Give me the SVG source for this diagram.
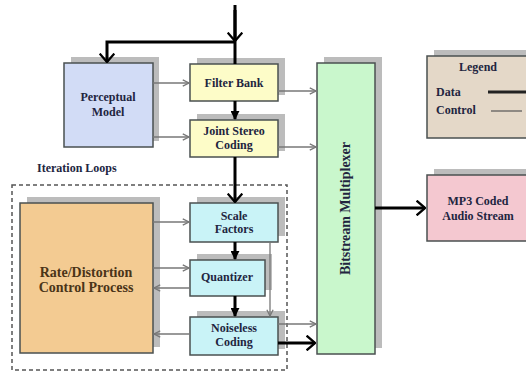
<svg xmlns="http://www.w3.org/2000/svg" width="526" height="372" viewBox="0 0 526 372">
<defs>
<marker id="chev" viewBox="0 0 10 16" refX="9" refY="8" markerWidth="3.5" markerHeight="5.6" orient="auto" markerUnits="strokeWidth">
<path d="M1,1 L9,8 L1,15" fill="none" stroke="#000" stroke-width="2.2"/>
</marker>
<marker id="tri" viewBox="0 0 10 10" refX="9" refY="5" markerWidth="3" markerHeight="3" orient="auto" markerUnits="strokeWidth">
<path d="M0,0 L10,5 L0,10 z" fill="#000"/>
</marker>
<marker id="thin" viewBox="0 0 10 10" refX="9" refY="5" markerWidth="6" markerHeight="6" orient="auto" markerUnits="strokeWidth">
<path d="M1,1 L9,5 L1,9" fill="none" stroke="#777" stroke-width="1.6"/>
</marker>
</defs>
<style>
.box{stroke:#4a5050;stroke-width:1.5}
.sh{fill:#bcbcbc}
.t{font-family:"Liberation Serif","Times New Roman",serif;font-weight:bold;font-size:12px;fill:#22253f;text-anchor:middle}
.data{stroke:#000;stroke-width:3;fill:none}
.ctl{stroke:#777;stroke-width:1.3;fill:none}
</style>
<rect width="526" height="372" fill="#fff"/>

<g id="iteration-loops">
<rect x="12" y="185" width="275" height="185" fill="none" stroke="#555" stroke-width="1.5" stroke-dasharray="4,3"/>
<text class="t" x="37" y="172" style="text-anchor:start">Iteration Loops</text>
</g>

<g id="perceptual-model">
<rect class="sh" x="71" y="57" width="88" height="84"/>
<rect class="box" x="64" y="63" width="89" height="84" fill="#d2dcf6"/>
<text class="t" x="108" y="101">Perceptual</text>
<text class="t" x="108" y="116">Model</text>
</g>

<g id="filter-bank">
<rect class="sh" x="197" y="58" width="88" height="37"/>
<rect class="box" x="190" y="64" width="88" height="37" fill="#fdfcc8"/>
<text class="t" x="234" y="87">Filter Bank</text>
</g>

<g id="joint-stereo">
<rect class="sh" x="197" y="114" width="88" height="37"/>
<rect class="box" x="190" y="120" width="88" height="37" fill="#fdfcc8"/>
<text class="t" x="234" y="135">Joint Stereo</text>
<text class="t" x="234" y="149">Coding</text>
</g>

<g id="rate-distortion">
<rect class="sh" x="27" y="197" width="133" height="150"/>
<rect class="box" x="20" y="203" width="133" height="150" fill="#f3cb92"/>
<text class="t" x="86" y="277" style="font-size:14px;fill:#4a3418">Rate/Distortion</text>
<text class="t" x="86" y="292" style="font-size:14px;fill:#4a3418">Control Process</text>
</g>

<g id="scale-factors">
<rect class="sh" x="197" y="197" width="88" height="39"/>
<rect class="box" x="190" y="203" width="88" height="39" fill="#c9f3f7"/>
<text class="t" x="234" y="220">Scale</text>
<text class="t" x="234" y="233">Factors</text>
</g>

<g id="quantizer">
<rect class="sh" x="197" y="254" width="75" height="36"/>
<rect class="box" x="190" y="260" width="75" height="36" fill="#c9f3f7"/>
<text class="t" x="227" y="281">Quantizer</text>
</g>

<g id="noiseless-coding">
<rect class="sh" x="197" y="311" width="88" height="38"/>
<rect class="box" x="190" y="317" width="88" height="38" fill="#c9f3f7"/>
<text class="t" x="234" y="332">Noiseless</text>
<text class="t" x="234" y="346">Coding</text>
</g>

<g id="bitstream-multiplexer">
<rect class="sh" x="324" y="57" width="58" height="291"/>
<rect class="box" x="317" y="63" width="58" height="291" fill="#c9f7cc"/>
<text class="t" transform="translate(350,208.5) rotate(-90)" style="font-size:14px">Bitstream Multiplexer</text>
</g>

<g id="legend">
<rect class="sh" x="434" y="50" width="100" height="82"/>
<rect class="box" x="427" y="56" width="105" height="82" fill="#e4d8c8"/>
<text class="t" x="478" y="71">Legend</text>
<text class="t" x="436" y="96" style="text-anchor:start">Data</text>
<text class="t" x="436" y="114" style="text-anchor:start">Control</text>
<line x1="488" y1="92" x2="526" y2="92" stroke="#222" stroke-width="3"/>
<line x1="491" y1="111" x2="522" y2="111" stroke="#555" stroke-width="1.2"/>
</g>

<g id="mp3-stream">
<rect class="sh" x="434" y="169" width="100" height="66"/>
<rect class="box" x="427" y="175" width="105" height="66" fill="#f4c8d0"/>
<text class="t" x="478" y="205">MP3 Coded</text>
<text class="t" x="478" y="220">Audio Stream</text>
</g>

<g id="connectors">
<path class="data" d="M235,5 V64"/>
<path class="data" d="M235,10 V41" marker-end="url(#chev)"/>
<path class="data" d="M235,42 H107 V62" marker-end="url(#chev)"/>
<path class="data" d="M235,101 V119" marker-end="url(#tri)"/>
<path class="data" d="M235,157 V202" marker-end="url(#chev)"/>
<path class="data" d="M235,242 V259" marker-end="url(#tri)"/>
<path class="data" d="M235,296 V316" marker-end="url(#tri)"/>
<path class="data" d="M278,343 H315" marker-end="url(#chev)"/>
<path class="data" d="M375,208 H425" marker-end="url(#chev)"/>

<path class="ctl" d="M153,83 H189" marker-end="url(#thin)"/>
<path class="ctl" d="M153,137 H189" marker-end="url(#thin)"/>
<path class="ctl" d="M278,91 H316" marker-end="url(#thin)"/>
<path class="ctl" d="M278,147 H316" marker-end="url(#thin)"/>
<path class="ctl" d="M153,222 H189" marker-end="url(#thin)"/>
<path class="ctl" d="M153,268 H189" marker-end="url(#thin)"/>
<path class="ctl" d="M190,288 H154" marker-end="url(#thin)"/>
<path class="ctl" d="M190,334 H154" marker-end="url(#thin)"/>
<path class="ctl" d="M270,242 V316" marker-end="url(#thin)"/>
<path class="ctl" d="M278,324 H316" marker-end="url(#thin)"/>
</g>
</svg>
